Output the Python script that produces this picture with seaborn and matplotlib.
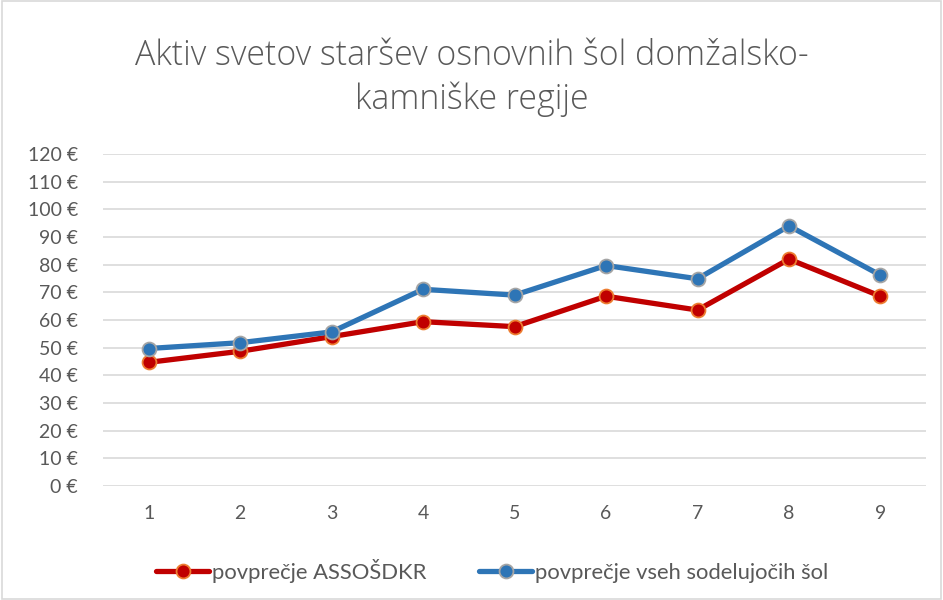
import pandas as pd
import numpy as np
import matplotlib
matplotlib.use('Agg')
import matplotlib.pyplot as plt
import seaborn as sns

# podatki odčitani z grafa
sole = [1, 2, 3, 4, 5, 6, 7, 8, 9]
povprecje_assosdkr = [44.7, 48.7, 54.0, 59.4, 57.6, 68.6, 63.6, 82.0, 68.6]
povprecje_vse = [49.7, 51.8, 55.7, 71.1, 69.0, 79.7, 74.9, 94.0, 76.2]
ime_red = 'povprečje ASSOŠDKR'
ime_blue = 'povprečje vseh sodelujočih šol'

df = pd.DataFrame({
    'sola': sole * 2,
    'vrednost': povprecje_assosdkr + povprecje_vse,
    'serija': [ime_red] * len(sole) + [ime_blue] * len(sole),
})
df['x'] = df['sola'] - 1

sns.set_style('white')
plt.rcParams['font.family'] = ['Lato', 'DejaVu Sans']
text_col = '#595959'

fig = plt.figure(figsize=(9.43, 6), dpi=100)
ax = fig.add_axes([0.1092, 0.19, 0.873, 0.5533])

barve = {ime_red: '#C00000', ime_blue: '#2E75B6'}
robovi = {ime_red: '#ED7D31', ime_blue: '#A5A5A5'}
for serija in [ime_red, ime_blue]:
    d = df[df['serija'] == serija]
    sns.lineplot(data=d, x='x', y='vrednost', ax=ax, color=barve[serija],
                 linewidth=3.8, marker='o', markersize=10,
                 markeredgecolor=robovi[serija], markeredgewidth=1.3,
                 label=serija, zorder=3)

ax.set_xlim(-0.5, len(sole) - 0.5)
ax.set_ylim(0, 120)
ax.set_xticks(range(len(sole)))
ax.set_xticklabels([str(s) for s in sole])
ax.set_yticks(np.arange(0, 121, 10))
ax.set_yticklabels([f'{v} €' for v in range(0, 121, 10)])
ax.grid(axis='y', color='#D9D9D9', linewidth=1.2)
ax.set_axisbelow(True)
for s in ax.spines.values():
    s.set_visible(False)
ax.tick_params(axis='both', length=0, labelsize=14, labelcolor=text_col)
ax.tick_params(axis='x', pad=14)
ax.tick_params(axis='y', pad=18)
ax.set_xlabel('')
ax.set_ylabel('')

fig.text(0.5, 0.871, 'Aktiv svetov staršev osnovnih šol domžalsko-\nkamniške regije',
         ha='center', va='center', fontsize=24.4, color=text_col,
         linespacing=1.3, family=['Open Sans', 'DejaVu Sans'], fontweight='light')

ax.legend(loc='center', bbox_to_anchor=(0.473, -0.256), ncol=2, frameon=False,
          fontsize=15.8, labelcolor=text_col, handlelength=2.4,
          columnspacing=2.4, handletextpad=0.15)

fig.patches.append(plt.Rectangle((0.002, 0.002), 0.996, 0.996, transform=fig.transFigure,
                                 fill=False, edgecolor='#D9D9D9', linewidth=1.2))

fig.savefig('out.png', dpi=100)
